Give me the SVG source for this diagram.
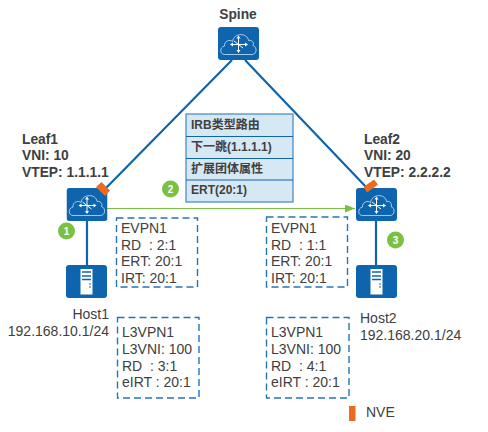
<svg xmlns="http://www.w3.org/2000/svg" xmlns:xlink="http://www.w3.org/1999/xlink" width="488" height="432" viewBox="0 0 488 432">
<style>
text{font-family:"Liberation Sans","Noto Sans CJK SC",sans-serif;fill:#404040;font-size:14px;white-space:pre}
.b{font-weight:bold;font-size:13.8px}
.t{font-weight:bold;font-size:12px}
.link{stroke:#0f65ad;stroke-width:2.2;fill:none}
.dash{fill:#fff;stroke:#2474b8;stroke-width:1.4;stroke-dasharray:7 4}
.num{fill:#7ac143}
.numt{fill:#fff;font-weight:bold;font-size:10px;text-anchor:middle}
.nve{fill:#ee6a1f}
</style>
<defs>
<marker id="arr" markerUnits="userSpaceOnUse" markerWidth="10" markerHeight="8" refX="10" refY="4" orient="auto"><path d="M0 0L10 4L0 8z" fill="#7ac143"/></marker>
<symbol id="router" width="41" height="33" viewBox="0 0 41 33">
<rect width="41" height="33" rx="3" fill="#0f65ad"/>
<path d="M6.500 27.500C2 27.500 1 20.500 6.500 19C6 14 12 12 14.500 14.500C16 5.500 29.500 5.500 30.500 13.500C35.500 12.500 36 17.500 35 18.500C39.500 20 39 27.500 34 27.500Z" fill="none" stroke="#cfe2f3" stroke-width="0.800"/>
<path d="M20.500 10V25M13.500 17.500H28M16 14L25 21" stroke="#fff" stroke-width="1" fill="none"/>
<path d="M18.500 11.500L20.500 8.500L22.500 11.500ZM18.500 23L20.500 26L22.500 23ZM15 15.500L12 17.500L15 19.500ZM27 15.500L30 17.500L27 19.500Z" fill="#fff"/>
</symbol>
<symbol id="server" width="41" height="33" viewBox="0 0 41 33">
<rect width="41" height="33" rx="3" fill="#0f65ad"/>
<rect x="14.500" y="4" width="12" height="25.500" fill="#fff"/>
<path d="M16 7H25M16 11H25M16 14.500H25" stroke="#0f65ad" stroke-width="1.500"/>
<path d="M23 19H25M23 22H25" stroke="#0f65ad" stroke-width="1.200"/>
</symbol>
</defs>
<rect width="488" height="432" fill="#fff"/>
<g id="connectors">
<path class="link" d="M232 60L105 189M245 60L367 188M87 221V265M376 220V265"/>
<path d="M107 208.500H355" stroke="#7ac143" stroke-width="1.200" fill="none" marker-end="url(#arr)"/>
</g>
<g id="spine"><use href="#router" x="218" y="27"/><text class="b" x="238" y="19" text-anchor="middle">Spine</text></g>
<g id="leaf1">
<use href="#router" x="66.500" y="188"/>
<path class="nve" d="M101.500 182L110 190.500L105 196L96 187Z"/>
<text class="b"><tspan x="22" y="144">Leaf1</tspan><tspan x="22" y="160">VNI: 10</tspan><tspan x="22" y="177">VTEP: 1.1.1.1</tspan></text>
</g>
<g id="leaf2">
<use href="#router" x="356" y="188"/>
<path class="nve" d="M363.500 187L374 179.500L378 184.500L367 192.500Z"/>
<text class="b"><tspan x="364" y="144">Leaf2</tspan><tspan x="364" y="160">VNI: 20</tspan><tspan x="364" y="177">VTEP: 2.2.2.2</tspan></text>
</g>
<g id="host1"><use href="#server" x="66" y="265"/><text x="109" y="319" text-anchor="end">Host1</text><text x="109" y="336" text-anchor="end">192.168.10.1/24</text></g>
<g id="host2"><use href="#server" x="356" y="265"/><text x="360" y="323">Host2</text><text x="360" y="340">192.168.20.1/24</text></g>
<g id="route-table">
<rect x="186" y="114" width="107" height="88" fill="#d6e8f3" stroke="#3f86c4" stroke-width="1.200"/>
<path d="M186 136.500H293M186 158.500H293M186 180H293" stroke="#0f65ad" stroke-width="1"/>
<text class="t" x="191" y="129">IRB类型路由</text>
<text class="t" x="191" y="151">下一跳(1.1.1.1)</text>
<text class="t" x="191" y="173">扩展团体属性</text>
<text class="t" x="191" y="194">ERT(20:1)</text>
</g>
<g id="badge1"><circle class="num" cx="66.500" cy="231" r="8.500"/><text class="numt" x="66.500" y="234.500">1</text></g>
<g id="badge2"><circle class="num" cx="170.500" cy="189" r="8.500"/><text class="numt" x="170.500" y="192.500">2</text></g>
<g id="badge3"><circle class="num" cx="395.500" cy="240" r="8.500"/><text class="numt" x="395.500" y="243.500">3</text></g>
<g id="evpn-left"><rect class="dash" x="116.500" y="218" width="81" height="69"/>
<text><tspan x="121" y="233">EVPN1</tspan><tspan x="121" y="249.500">RD  : 2:1</tspan><tspan x="121" y="266">ERT: 20:1</tspan><tspan x="121" y="282.500">IRT: 20:1</tspan></text></g>
<g id="evpn-right"><rect class="dash" x="266.500" y="217" width="81" height="70"/>
<text><tspan x="271" y="233">EVPN1</tspan><tspan x="271" y="249.500">RD  : 1:1</tspan><tspan x="271" y="266">ERT: 20:1</tspan><tspan x="271" y="282.500">IRT: 20:1</tspan></text></g>
<g id="l3vpn-left"><rect class="dash" x="117.500" y="317.500" width="81.500" height="80.500"/>
<text><tspan x="122" y="337">L3VPN1</tspan><tspan x="122" y="354">L3VNI: 100</tspan><tspan x="122" y="370.500">RD  : 3:1</tspan><tspan x="122" y="387">eIRT : 20:1</tspan></text></g>
<g id="l3vpn-right"><rect class="dash" x="266.500" y="317.500" width="82.500" height="80.500"/>
<text><tspan x="271" y="337">L3VPN1</tspan><tspan x="271" y="354">L3VNI: 100</tspan><tspan x="271" y="370.500">RD  : 4:1</tspan><tspan x="271" y="387">eIRT : 20:1</tspan></text></g>
<g id="legend"><rect class="nve" x="349" y="406" width="6.500" height="15"/><text x="366" y="417">NVE</text></g>
</svg>
